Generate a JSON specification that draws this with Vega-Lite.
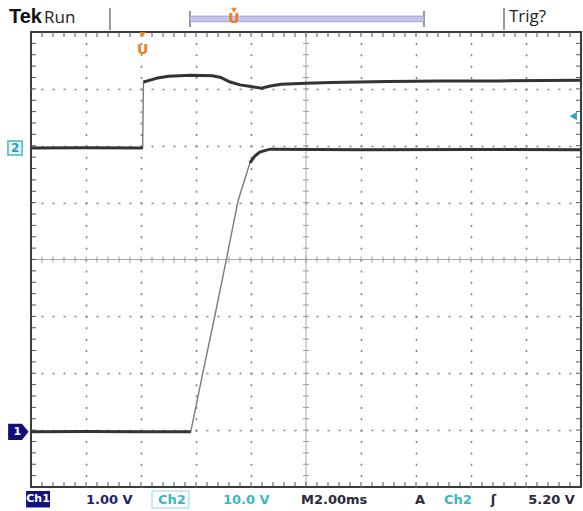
{
  "$schema": "https://vega.github.io/schema/vega-lite/v6.json",
  "width": 550,
  "height": 455,
  "autosize": {"type": "none"},
  "padding": {"left": 31, "top": 32, "right": 2, "bottom": 24},
  "background": "white",
  "config": {"view": {"stroke": "#3a3a3a", "strokeWidth": 2}},
  "resolve": {"scale": {"x": "independent", "y": "independent"}, "axis": {"x": "independent", "y": "independent"}},
  "datasets": {
    "xt": [{"x":0.2},{"x":0.4},{"x":0.6},{"x":0.8},{"x":1},{"x":1.2},{"x":1.4},{"x":1.6},{"x":1.8},{"x":2},{"x":2.2},{"x":2.4},{"x":2.6},{"x":2.8},{"x":3},{"x":3.2},{"x":3.4},{"x":3.6},{"x":3.8},{"x":4},{"x":4.2},{"x":4.4},{"x":4.6},{"x":4.8},{"x":5},{"x":5.2},{"x":5.4},{"x":5.6},{"x":5.8},{"x":6},{"x":6.2},{"x":6.4},{"x":6.6},{"x":6.8},{"x":7},{"x":7.2},{"x":7.4},{"x":7.6},{"x":7.8},{"x":8},{"x":8.2},{"x":8.4},{"x":8.6},{"x":8.8},{"x":9},{"x":9.2},{"x":9.4},{"x":9.6},{"x":9.8}],
    "yt": [{"y":0.2},{"y":0.4},{"y":0.6},{"y":0.8},{"y":1},{"y":1.2},{"y":1.4},{"y":1.6},{"y":1.8},{"y":2},{"y":2.2},{"y":2.4},{"y":2.6},{"y":2.8},{"y":3},{"y":3.2},{"y":3.4},{"y":3.6},{"y":3.8},{"y":4},{"y":4.2},{"y":4.4},{"y":4.6},{"y":4.8},{"y":5},{"y":5.2},{"y":5.4},{"y":5.6},{"y":5.8},{"y":6},{"y":6.2},{"y":6.4},{"y":6.6},{"y":6.8},{"y":7},{"y":7.2},{"y":7.4},{"y":7.6},{"y":7.8}],
    "ch1": [
      {"x": 0, "y": 0.97, "seg": "lo"}, {"x": 1, "y": 0.975, "seg": "lo"}, {"x": 2, "y": 0.97, "seg": "lo"}, {"x": 2.904, "y": 0.97, "seg": "lo"},
      {"x": 3.127, "y": 2.02, "seg": "ramp"}, {"x": 3.345, "y": 3.02, "seg": "ramp"}, {"x": 3.558, "y": 4.03, "seg": "ramp"}, {"x": 3.764, "y": 5.03, "seg": "ramp"},
      {"x": 3.98, "y": 5.70, "seg": "hi"}, {"x": 4.07, "y": 5.82, "seg": "hi"}, {"x": 4.16, "y": 5.89, "seg": "hi"}, {"x": 4.345, "y": 5.94, "seg": "hi"},
      {"x": 6, "y": 5.93, "seg": "hi"}, {"x": 8, "y": 5.935, "seg": "hi"}, {"x": 10, "y": 5.93, "seg": "hi"}
    ],
    "ch2": [
      {"x": 0, "y": 5.96, "seg": "lo"}, {"x": 1, "y": 5.965, "seg": "lo"}, {"x": 2.03, "y": 5.96, "seg": "lo"},
      {"x": 2.045, "y": 7.12, "seg": "hi"}, {"x": 2.15, "y": 7.15, "seg": "hi"}, {"x": 2.3, "y": 7.19, "seg": "hi"}, {"x": 2.5, "y": 7.22, "seg": "hi"},
      {"x": 2.9, "y": 7.24, "seg": "hi"}, {"x": 3.3, "y": 7.23, "seg": "hi"}, {"x": 3.45, "y": 7.2, "seg": "hi"}, {"x": 3.62, "y": 7.12, "seg": "hi"},
      {"x": 3.8, "y": 7.07, "seg": "hi"}, {"x": 4.0, "y": 7.04, "seg": "hi"}, {"x": 4.19, "y": 7.01, "seg": "hi"}, {"x": 4.35, "y": 7.05, "seg": "hi"},
      {"x": 4.55, "y": 7.08, "seg": "hi"}, {"x": 5.0, "y": 7.1, "seg": "hi"}, {"x": 5.45, "y": 7.11, "seg": "hi"}, {"x": 6.5, "y": 7.13, "seg": "hi"},
      {"x": 7.45, "y": 7.14, "seg": "hi"}, {"x": 8.5, "y": 7.14, "seg": "hi"}, {"x": 10, "y": 7.15, "seg": "hi"}
    ],
    "rules": [
      {"x": 1.436, "y": 8.42, "y2": 8.035},
      {"x": 8.6, "y": 8.42, "y2": 8.035},
      {"x": 2.89, "y": 8.37, "y2": 8.09},
      {"x": 7.145, "y": 8.37, "y2": 8.09}
    ],
    "boxes": [
      {"x": 2.89, "x2": 7.145, "y": 8.28, "y2": 8.18, "grp": "bracket"},
      {"x": -0.09, "x2": 0.345, "y": -0.07, "y2": -0.36, "grp": "ch1box"},
      {"x": 2.2, "x2": 2.87, "y": -0.07, "y2": -0.37, "grp": "ch2box"}
    ],
    "markers": [
      {"x": -0.29, "y": 5.96, "grp": "m2"},
      {"x": -0.23, "y": 0.97, "grp": "m1"},
      {"x": 9.86, "y": 6.52, "grp": "trig"},
      {"x": 2.03, "y": 7.95, "grp": "utri"},
      {"x": 3.69, "y": 8.38, "grp": "utri"}
    ],
    "labels": [
      {"x": -0.4, "y": 8.264, "text": "Tek", "grp": "tek"},
      {"x": 0.236, "y": 8.25, "text": "Run", "grp": "hdr"},
      {"x": 8.69, "y": 8.27, "text": "Trig?", "grp": "hdr"},
      {"x": 3.69, "y": 8.23, "text": "U", "grp": "orange"},
      {"x": 2.03, "y": 7.68, "text": "U", "grp": "orange"},
      {"x": -0.29, "y": 5.96, "text": "2", "grp": "m2"},
      {"x": -0.25, "y": 0.97, "text": "1", "grp": "white"},
      {"x": 0.128, "y": -0.215, "text": "Ch1", "grp": "white"},
      {"x": 1.0, "y": -0.225, "text": "1.00 V", "grp": "navy"},
      {"x": 2.31, "y": -0.225, "text": "Ch2", "grp": "cyan"},
      {"x": 3.49, "y": -0.225, "text": "10.0 V", "grp": "cyan"},
      {"x": 4.91, "y": -0.225, "text": "M2.00ms", "grp": "dark"},
      {"x": 6.98, "y": -0.225, "text": "A", "grp": "dark"},
      {"x": 7.51, "y": -0.225, "text": "Ch2", "grp": "cyan"},
      {"x": 8.36, "y": -0.225, "text": "ʃ", "grp": "dark"},
      {"x": 9.04, "y": -0.225, "text": "5.20 V", "grp": "dark"}
    ]
  },
  "layer": [
    {
      "data": {"values": [{"x": 5}]},
      "mark": {"type": "rule", "color": "#a8a8a8", "strokeWidth": 1},
      "encoding": {
        "x": {"field": "x", "type": "quantitative", "scale": {"domain": [0, 10], "nice": false, "zero": false},
          "axis": {"orient": "bottom", "title": null, "labels": false, "ticks": false, "domain": false, "grid": true,
            "values": [1, 2, 3, 4, 6, 7, 8, 9], "gridColor": "#808080", "gridWidth": 1.6, "gridDash": [2, 9.375], "gridDashOffset": 1, "gridOpacity": 1}}
      }
    },
    {
      "data": {"values": [{"y": 4}]},
      "mark": {"type": "rule", "color": "#a8a8a8", "strokeWidth": 1},
      "encoding": {
        "y": {"field": "y", "type": "quantitative", "scale": {"domain": [0, 8], "nice": false, "zero": false},
          "axis": {"orient": "left", "title": null, "labels": false, "ticks": false, "domain": false, "grid": true,
            "values": [1, 2, 3, 5, 6, 7], "gridColor": "#808080", "gridWidth": 1.6, "gridDash": [2, 9], "gridDashOffset": 1, "gridOpacity": 1}}
      }
    },
    {
      "data": {"name": "xt"},
      "mark": {"type": "tick", "orient": "vertical", "size": 10, "thickness": 1, "color": "#555555", "opacity": 1, "clip": true},
      "encoding": {
        "x": {"field": "x", "type": "quantitative", "scale": {"domain": [0, 10], "nice": false, "zero": false}, "axis": null},
        "y": {"datum": 0, "type": "quantitative", "scale": {"domain": [0, 8], "nice": false, "zero": false}, "axis": null}
      }
    },
    {
      "data": {"name": "xt"},
      "mark": {"type": "tick", "orient": "vertical", "size": 10, "thickness": 1, "color": "#555555", "opacity": 1, "clip": true},
      "encoding": {
        "x": {"field": "x", "type": "quantitative", "scale": {"domain": [0, 10], "nice": false, "zero": false}, "axis": null},
        "y": {"datum": 8, "type": "quantitative", "scale": {"domain": [0, 8], "nice": false, "zero": false}, "axis": null}
      }
    },
    {
      "data": {"name": "xt"},
      "mark": {"type": "tick", "orient": "vertical", "size": 6, "thickness": 1, "color": "#9a9a9a", "opacity": 1},
      "encoding": {
        "x": {"field": "x", "type": "quantitative", "scale": {"domain": [0, 10], "nice": false, "zero": false}, "axis": null},
        "y": {"datum": 4, "type": "quantitative", "scale": {"domain": [0, 8], "nice": false, "zero": false}, "axis": null}
      }
    },
    {
      "data": {"name": "yt"},
      "mark": {"type": "tick", "orient": "horizontal", "size": 10, "thickness": 1, "color": "#555555", "opacity": 1, "clip": true},
      "encoding": {
        "y": {"field": "y", "type": "quantitative", "scale": {"domain": [0, 8], "nice": false, "zero": false}, "axis": null},
        "x": {"datum": 0, "type": "quantitative", "scale": {"domain": [0, 10], "nice": false, "zero": false}, "axis": null}
      }
    },
    {
      "data": {"name": "yt"},
      "mark": {"type": "tick", "orient": "horizontal", "size": 10, "thickness": 1, "color": "#555555", "opacity": 1, "clip": true},
      "encoding": {
        "y": {"field": "y", "type": "quantitative", "scale": {"domain": [0, 8], "nice": false, "zero": false}, "axis": null},
        "x": {"datum": 10, "type": "quantitative", "scale": {"domain": [0, 10], "nice": false, "zero": false}, "axis": null}
      }
    },
    {
      "data": {"name": "yt"},
      "mark": {"type": "tick", "orient": "horizontal", "size": 6, "thickness": 1, "color": "#9a9a9a", "opacity": 1},
      "encoding": {
        "y": {"field": "y", "type": "quantitative", "scale": {"domain": [0, 8], "nice": false, "zero": false}, "axis": null},
        "x": {"datum": 5, "type": "quantitative", "scale": {"domain": [0, 10], "nice": false, "zero": false}, "axis": null}
      }
    },
    {
      "data": {"name": "ch1"},
      "mark": {"type": "line", "color": "#7a7a7a", "strokeWidth": 1.4},
      "encoding": {
        "x": {"field": "x", "type": "quantitative", "scale": {"domain": [0, 10], "nice": false, "zero": false}, "axis": null},
        "y": {"field": "y", "type": "quantitative", "scale": {"domain": [0, 8], "nice": false, "zero": false}, "axis": null}
      }
    },
    {
      "data": {"name": "ch2"},
      "mark": {"type": "line", "color": "#7a7a7a", "strokeWidth": 1.4},
      "encoding": {
        "x": {"field": "x", "type": "quantitative", "scale": {"domain": [0, 10], "nice": false, "zero": false}, "axis": null},
        "y": {"field": "y", "type": "quantitative", "scale": {"domain": [0, 8], "nice": false, "zero": false}, "axis": null}
      }
    },
    {
      "data": {"name": "ch1"},
      "transform": [{"filter": "datum.seg !== 'ramp'"}],
      "mark": {"type": "line", "color": "#333333", "strokeWidth": 3},
      "encoding": {
        "x": {"field": "x", "type": "quantitative", "scale": {"domain": [0, 10], "nice": false, "zero": false}, "axis": null},
        "y": {"field": "y", "type": "quantitative", "scale": {"domain": [0, 8], "nice": false, "zero": false}, "axis": null},
        "detail": {"field": "seg"}
      }
    },
    {
      "data": {"name": "ch2"},
      "mark": {"type": "line", "color": "#333333", "strokeWidth": 3},
      "encoding": {
        "x": {"field": "x", "type": "quantitative", "scale": {"domain": [0, 10], "nice": false, "zero": false}, "axis": null},
        "y": {"field": "y", "type": "quantitative", "scale": {"domain": [0, 8], "nice": false, "zero": false}, "axis": null},
        "detail": {"field": "seg"}
      }
    },
    {
      "data": {"name": "rules"},
      "mark": {"type": "rule", "color": "#777777", "strokeWidth": 1.5, "clip": false},
      "encoding": {
        "x": {"field": "x", "type": "quantitative", "scale": {"domain": [0, 10], "nice": false, "zero": false}, "axis": null},
        "y": {"field": "y", "type": "quantitative", "scale": {"domain": [0, 8], "nice": false, "zero": false}, "axis": null},
        "y2": {"field": "y2"}
      }
    },
    {
      "data": {"name": "boxes"},
      "transform": [{"filter": "datum.grp === 'bracket'"}],
      "mark": {"type": "rect", "fill": "#c4c4ec", "stroke": "#9a9acc", "strokeWidth": 0.8},
      "encoding": {
        "x": {"field": "x", "type": "quantitative", "scale": {"domain": [0, 10], "nice": false, "zero": false}, "axis": null},
        "x2": {"field": "x2"},
        "y": {"field": "y", "type": "quantitative", "scale": {"domain": [0, 8], "nice": false, "zero": false}, "axis": null},
        "y2": {"field": "y2"}
      }
    },
    {
      "data": {"name": "boxes"},
      "transform": [{"filter": "datum.grp === 'ch1box'"}],
      "mark": {"type": "rect", "fill": "#13137e"},
      "encoding": {
        "x": {"field": "x", "type": "quantitative", "scale": {"domain": [0, 10], "nice": false, "zero": false}, "axis": null},
        "x2": {"field": "x2"},
        "y": {"field": "y", "type": "quantitative", "scale": {"domain": [0, 8], "nice": false, "zero": false}, "axis": null},
        "y2": {"field": "y2"}
      }
    },
    {
      "data": {"name": "boxes"},
      "transform": [{"filter": "datum.grp === 'ch2box'"}],
      "mark": {"type": "rect", "fill": "white", "stroke": "#8fd6e0", "strokeWidth": 1},
      "encoding": {
        "x": {"field": "x", "type": "quantitative", "scale": {"domain": [0, 10], "nice": false, "zero": false}, "axis": null},
        "x2": {"field": "x2"},
        "y": {"field": "y", "type": "quantitative", "scale": {"domain": [0, 8], "nice": false, "zero": false}, "axis": null},
        "y2": {"field": "y2"}
      }
    },
    {
      "data": {"name": "markers"},
      "transform": [{"filter": "datum.grp === 'm2'"}],
      "mark": {"type": "point", "shape": "square", "size": 200, "filled": true, "fill": "#e4f7fa", "stroke": "#46b8c8", "strokeWidth": 1.5, "opacity": 1},
      "encoding": {
        "x": {"field": "x", "type": "quantitative", "scale": {"domain": [0, 10], "nice": false, "zero": false}, "axis": null},
        "y": {"field": "y", "type": "quantitative", "scale": {"domain": [0, 8], "nice": false, "zero": false}, "axis": null}
      }
    },
    {
      "data": {"name": "markers"},
      "transform": [{"filter": "datum.grp === 'm1'"}],
      "mark": {"type": "point", "shape": "M-1,-0.8L0.35,-0.8L1,0L0.35,0.8L-1,0.8Z", "size": 420, "filled": true, "fill": "#10107a", "opacity": 1},
      "encoding": {
        "x": {"field": "x", "type": "quantitative", "scale": {"domain": [0, 10], "nice": false, "zero": false}, "axis": null},
        "y": {"field": "y", "type": "quantitative", "scale": {"domain": [0, 8], "nice": false, "zero": false}, "axis": null}
      }
    },
    {
      "data": {"name": "markers"},
      "transform": [{"filter": "datum.grp === 'trig'"}],
      "mark": {"type": "point", "shape": "triangle-left", "size": 70, "filled": true, "fill": "#2aa6b4", "opacity": 1},
      "encoding": {
        "x": {"field": "x", "type": "quantitative", "scale": {"domain": [0, 10], "nice": false, "zero": false}, "axis": null},
        "y": {"field": "y", "type": "quantitative", "scale": {"domain": [0, 8], "nice": false, "zero": false}, "axis": null}
      }
    },
    {
      "data": {"name": "markers"},
      "transform": [{"filter": "datum.grp === 'utri'"}],
      "mark": {"type": "point", "shape": "triangle-down", "size": 35, "filled": true, "fill": "#f08a2a", "opacity": 1},
      "encoding": {
        "x": {"field": "x", "type": "quantitative", "scale": {"domain": [0, 10], "nice": false, "zero": false}, "axis": null},
        "y": {"field": "y", "type": "quantitative", "scale": {"domain": [0, 8], "nice": false, "zero": false}, "axis": null}
      }
    },
    {
      "data": {"name": "labels"},
      "transform": [{"filter": "datum.grp === 'tek'"}],
      "mark": {"type": "text", "align": "left", "baseline": "middle", "font": "Liberation Sans", "fontWeight": "bold", "fontSize": 20, "color": "#111111"},
      "encoding": {
        "x": {"field": "x", "type": "quantitative", "scale": {"domain": [0, 10], "nice": false, "zero": false}, "axis": null},
        "y": {"field": "y", "type": "quantitative", "scale": {"domain": [0, 8], "nice": false, "zero": false}, "axis": null},
        "text": {"field": "text"}
      }
    },
    {
      "data": {"name": "labels"},
      "transform": [{"filter": "datum.grp === 'hdr'"}],
      "mark": {"type": "text", "align": "left", "baseline": "middle", "font": "Open Sans", "fontSize": 17, "color": "#222222"},
      "encoding": {
        "x": {"field": "x", "type": "quantitative", "scale": {"domain": [0, 10], "nice": false, "zero": false}, "axis": null},
        "y": {"field": "y", "type": "quantitative", "scale": {"domain": [0, 8], "nice": false, "zero": false}, "axis": null},
        "text": {"field": "text"}
      }
    },
    {
      "data": {"name": "labels"},
      "transform": [{"filter": "datum.grp === 'orange'"}],
      "mark": {"type": "text", "align": "center", "baseline": "middle", "font": "DejaVu Sans", "fontWeight": "bold", "fontSize": 14, "color": "#ee7d1c"},
      "encoding": {
        "x": {"field": "x", "type": "quantitative", "scale": {"domain": [0, 10], "nice": false, "zero": false}, "axis": null},
        "y": {"field": "y", "type": "quantitative", "scale": {"domain": [0, 8], "nice": false, "zero": false}, "axis": null},
        "text": {"field": "text"}
      }
    },
    {
      "data": {"name": "labels"},
      "transform": [{"filter": "datum.grp === 'm2'"}],
      "mark": {"type": "text", "align": "center", "baseline": "middle", "font": "DejaVu Sans", "fontWeight": "bold", "fontSize": 12, "color": "#2a9fb0"},
      "encoding": {
        "x": {"field": "x", "type": "quantitative", "scale": {"domain": [0, 10], "nice": false, "zero": false}, "axis": null},
        "y": {"field": "y", "type": "quantitative", "scale": {"domain": [0, 8], "nice": false, "zero": false}, "axis": null},
        "text": {"field": "text"}
      }
    },
    {
      "data": {"name": "labels"},
      "transform": [{"filter": "datum.grp === 'white'"}],
      "mark": {"type": "text", "align": "center", "baseline": "middle", "font": "DejaVu Sans", "fontWeight": "bold", "fontSize": 11, "color": "#ffffff"},
      "encoding": {
        "x": {"field": "x", "type": "quantitative", "scale": {"domain": [0, 10], "nice": false, "zero": false}, "axis": null},
        "y": {"field": "y", "type": "quantitative", "scale": {"domain": [0, 8], "nice": false, "zero": false}, "axis": null},
        "text": {"field": "text"}
      }
    },
    {
      "data": {"name": "labels"},
      "transform": [{"filter": "datum.grp === 'navy'"}],
      "mark": {"type": "text", "align": "left", "baseline": "middle", "font": "DejaVu Sans", "fontWeight": "bold", "fontSize": 13, "color": "#1c2270"},
      "encoding": {
        "x": {"field": "x", "type": "quantitative", "scale": {"domain": [0, 10], "nice": false, "zero": false}, "axis": null},
        "y": {"field": "y", "type": "quantitative", "scale": {"domain": [0, 8], "nice": false, "zero": false}, "axis": null},
        "text": {"field": "text"}
      }
    },
    {
      "data": {"name": "labels"},
      "transform": [{"filter": "datum.grp === 'cyan'"}],
      "mark": {"type": "text", "align": "left", "baseline": "middle", "font": "DejaVu Sans", "fontWeight": "bold", "fontSize": 13, "color": "#3bb6c6"},
      "encoding": {
        "x": {"field": "x", "type": "quantitative", "scale": {"domain": [0, 10], "nice": false, "zero": false}, "axis": null},
        "y": {"field": "y", "type": "quantitative", "scale": {"domain": [0, 8], "nice": false, "zero": false}, "axis": null},
        "text": {"field": "text"}
      }
    },
    {
      "data": {"name": "labels"},
      "transform": [{"filter": "datum.grp === 'dark'"}],
      "mark": {"type": "text", "align": "left", "baseline": "middle", "font": "DejaVu Sans", "fontWeight": "bold", "fontSize": 13, "color": "#2a2a3a"},
      "encoding": {
        "x": {"field": "x", "type": "quantitative", "scale": {"domain": [0, 10], "nice": false, "zero": false}, "axis": null},
        "y": {"field": "y", "type": "quantitative", "scale": {"domain": [0, 8], "nice": false, "zero": false}, "axis": null},
        "text": {"field": "text"}
      }
    }
  ]
}
